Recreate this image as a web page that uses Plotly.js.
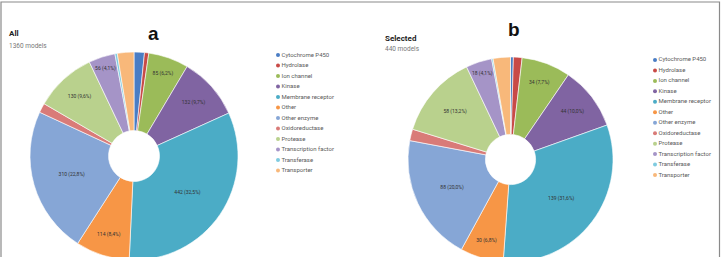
<!DOCTYPE html>
<html><head><meta charset="utf-8">
<script src="https://cdn.plot.ly/plotly-3.0.1.min.js"></script>
<style>html,body{margin:0;padding:0;overflow:hidden;background:#fff}#c{width:723px;height:264px}</style>
</head><body><div id="c"></div>
<script>
var categories = ["Cytochrome P450","Hydrolase","Ion channel","Kinase","Membrane receptor","Other","Other enzyme","Oxidoreductase","Protease","Transcription factor","Transferase","Transporter"];
var colors = ["#4a7dc4","#c84a47","#9bbb59","#8064a2","#4bacc6","#f79646","#86a6d6","#d97b78","#b9d18d","#a594c7","#7fcbe0","#f8b87a"];
var valuesAll = [22, 9, 85, 132, 442, 114, 310, 20, 130, 56, 5, 35];
var labelsAll = ["", "", "85 (6,2%)", "132 (9,7%)", "442 (32,5%)", "114 (8,4%)", "310 (22,8%)", "", "130 (9,6%)", "56 (4,1%)", "", ""];
var valuesSel = [2, 6, 34, 44, 139, 30, 88, 8, 58, 18, 1, 12];
var labelsSel = ["", "", "34 (7,7%)", "44 (10,0%)", "139 (31,6%)", "30 (6,8%)", "88 (20,0%)", "", "58 (13,2%)", "18 (4,1%)", "", ""];
var legendRows = categories.map(function(_, i){ return i; });
var legendCol = categories.map(function(){ return 0; });

var W = 723, H = 264;
function px(x){ return x / W; }
function py(y){ return 1 - y / H; }

function pie(vals, txt, dx, dy){
  return {
    type: "pie", values: vals, labels: categories, text: txt,
    texttemplate: "%{text}", textinfo: "text", textposition: "inside",
    insidetextorientation: "horizontal",
    textfont: {family: "Roboto, sans-serif", size: 5, color: "#333"},
    sort: false, direction: "clockwise", rotation: 0, hole: 0.245,
    marker: {colors: colors, line: {color: "#fff", width: 0.6}},
    domain: {x: dx, y: dy}, showlegend: false, hoverinfo: "label+value"
  };
}
function leg(xa, ya){
  return {
    type: "scatter", mode: "markers+text", x: legendCol, y: legendRows,
    text: categories, textposition: "middle right",
    marker: {color: colors, size: 4}, cliponaxis: false,
    textfont: {family: "Roboto, sans-serif", size: 6, color: "#5a5a5a"},
    xaxis: xa, yaxis: ya, showlegend: false, hoverinfo: "skip"
  };
}
var data = [
  pie(valuesAll, labelsAll, [px(30), px(238)], [py(260), py(52)]),
  pie(valuesSel, labelsSel, [px(408), px(613)], [py(262), py(57)]),
  leg("x", "y"), leg("x2", "y2")
];
var hid = {visible: false, fixedrange: true};
var layout = {
  width: W, height: H, margin: {l: 0, r: 0, t: 0, b: 0},
  paper_bgcolor: "#fff", plot_bgcolor: "rgba(0,0,0,0)",
  font: {family: "Roboto, sans-serif"},
  xaxis: Object.assign({domain: [px(278), px(278) + 0.1], range: [0, 1]}, hid),
  yaxis: Object.assign({domain: [py(175.75), py(49.75)], range: [11.5, -0.5]}, hid),
  xaxis2: Object.assign({domain: [px(655), px(655) + 0.08], range: [0, 1], anchor: "y2"}, hid),
  yaxis2: Object.assign({domain: [py(180.25), py(54.75)], range: [11.5, -0.5], anchor: "x2"}, hid),
  shapes: [{type: "rect", xref: "paper", yref: "paper", x0: px(1), x1: px(719.5), y0: -0.2, y1: py(2),
            line: {color: "#8a8a8a", width: 1.2}}],
  annotations: [
    {text: "<b>a</b>", x: px(146), y: py(21), xref: "paper", yref: "paper", showarrow: false, font: {family: "Liberation Sans, Arial, sans-serif", size: 19, color: "#111"}},
    {text: "<b>b</b>", x: px(522), y: py(17), xref: "paper", yref: "paper", showarrow: false, font: {family: "Liberation Sans, Arial, sans-serif", size: 19, color: "#111"}},
    {text: "<b>All</b>", x: px(7), y: py(27), xref: "paper", yref: "paper", xanchor: "left", showarrow: false, font: {size: 8, color: "#222"}},
    {text: "1360 models", x: px(7), y: py(40), xref: "paper", yref: "paper", xanchor: "left", showarrow: false, font: {size: 6.5, color: "#777"}},
    {text: "<b>Selected</b>", x: px(383), y: py(32), xref: "paper", yref: "paper", xanchor: "left", showarrow: false, font: {size: 8, color: "#222"}},
    {text: "440 models", x: px(383), y: py(43), xref: "paper", yref: "paper", xanchor: "left", showarrow: false, font: {size: 6.5, color: "#777"}}
  ]
};
Plotly.newPlot("c", data, layout, {staticPlot: true, displayModeBar: false});
</script></body></html>
